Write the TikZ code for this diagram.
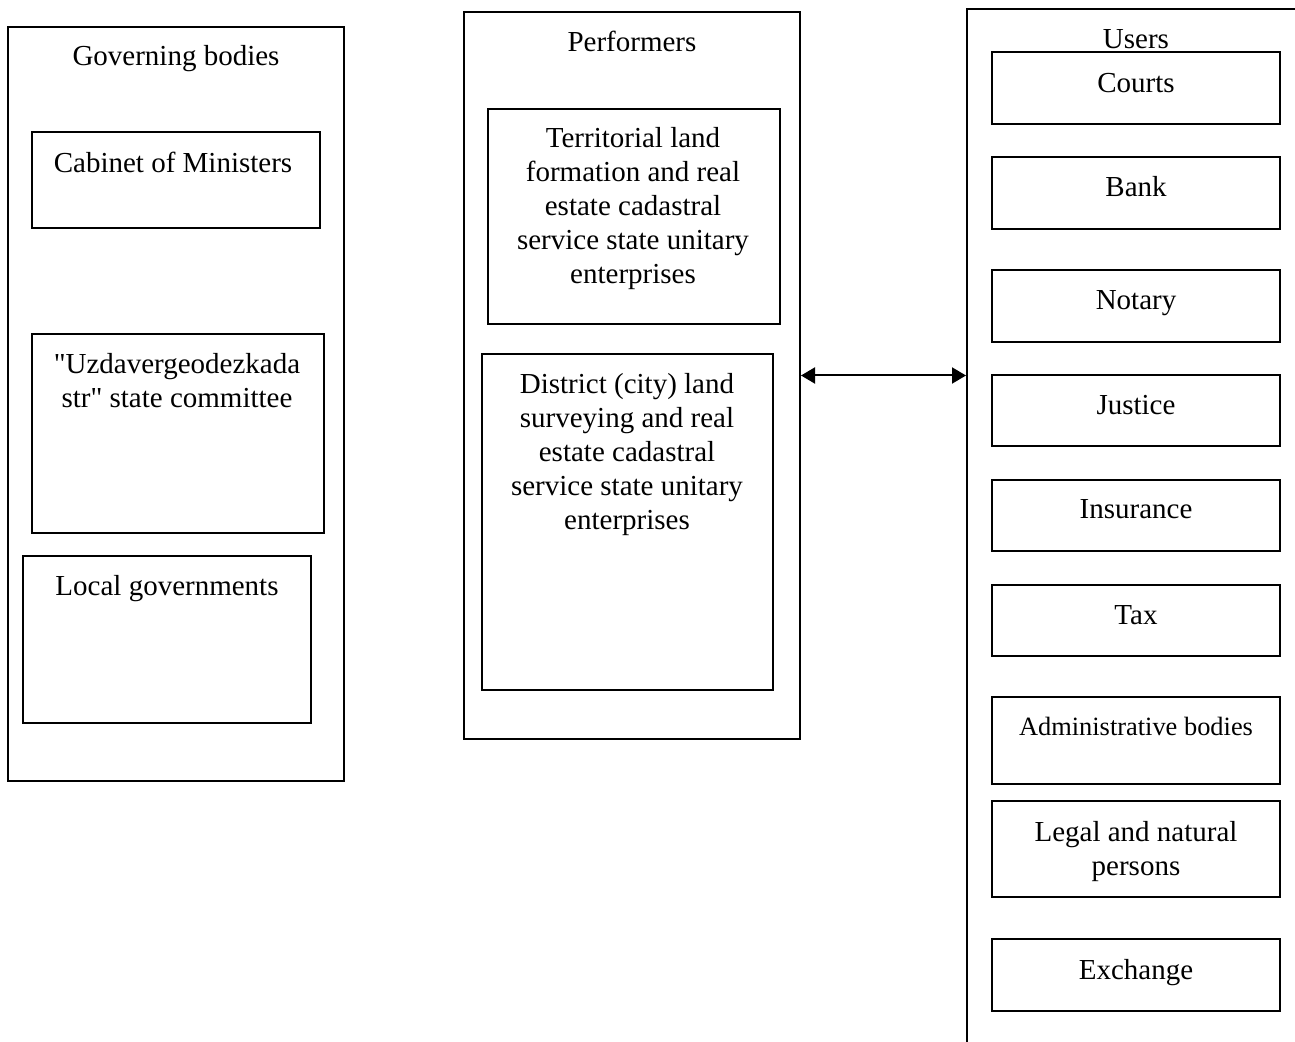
\documentclass[tikz,border=0pt]{standalone}
\usepackage{fontspec}
\setmainfont{Liberation Serif}[Ligatures=TeXOff]
\usetikzlibrary{fit,arrows.meta}
\tikzset{
  px/.style={x=0.5pt,y=-0.5pt},
  frame/.style={draw,line width=1pt,inner sep=0pt,fit={#1}},
  lbl/.style={anchor=base,align=center,inner sep=0pt,font=\fontsize{14.5}{17}\selectfont},
  slbl/.style={anchor=base,align=center,inner sep=0pt,font=\fontsize{13.2}{16}\selectfont},
  link/.style={line width=1pt,{Triangle[length=7pt,width=8pt]}-{Triangle[length=7pt,width=8pt]}}
}
\begin{document}
\begin{tikzpicture}[px]
\useasboundingbox (0,0) rectangle (1295,1042);
\clip (0,0) rectangle (1295,1042);
% Governing bodies
\node[frame={(8,27)(344,781)}] (gov) {};
\node[lbl] (govt) at (176,66) {Governing bodies};
\node[frame={(32,132)(320,228)}] (cab) {};
\node[lbl] (cabt) at (173,173) {Cabinet of Ministers};
\node[frame={(32,334)(324,533)}] (uzd) {};
\node[lbl] (uzdt) at (177,408) {"Uzdavergeodezkada\\str" state committee};
\node[frame={(23,556)(311,723)}] (loc) {};
\node[lbl] (loct) at (167,596) {Local governments};
% Performers
\node[frame={(464,12)(800,739)}] (perf) {};
\node[lbl] (perft) at (632,52) {Performers};
\node[frame={(488,109)(780,324)}] (terr) {};
\node[lbl] (terrt) at (633,284) {Territorial land\\formation and real\\estate cadastral\\service state unitary\\enterprises};
\node[frame={(482,354)(773,690)}] (dist) {};
\node[lbl] (distt) at (627,530) {District (city) land\\surveying and real\\estate cadastral\\service state unitary\\enterprises};
% Users
\node[frame={(967,9)(1320,1070)}] (users) {};
\node[lbl] (userst) at (1136,49) {Users};
\node[frame={(992,52)(1280,124)}] (u1) {};
\node[lbl] at (1136,93) (u1t) {Courts};
\node[frame={(992,157)(1280,229)}] (u2) {};
\node[lbl] at (1136,197) (u2t) {Bank};
\node[frame={(992,270)(1280,342)}] (u3) {};
\node[lbl] at (1136,310) (u3t) {Notary};
\node[frame={(992,375)(1280,446)}] (u4) {};
\node[lbl] at (1136,415) (u4t) {Justice};
\node[frame={(992,480)(1280,551)}] (u5) {};
\node[lbl] at (1136,519) (u5t) {Insurance};
\node[frame={(992,585)(1280,656)}] (u6) {};
\node[lbl] at (1136,624) (u6t) {Tax};
\node[frame={(992,697)(1280,784)}] (u7) {};
\node[slbl] at (1136,735) (u7t) {Administrative bodies};
\node[frame={(992,801)(1280,897)}] (u8) {};
\node[lbl] at (1136,875) (u8t) {Legal and natural\\persons};
\node[frame={(992,939)(1280,1011)}] (u9) {};
\node[lbl] at (1136,979) (u9t) {Exchange};
% connector
\draw[link] (perf.east) -- (perf.east -| users.west);
\end{tikzpicture}
\end{document}
